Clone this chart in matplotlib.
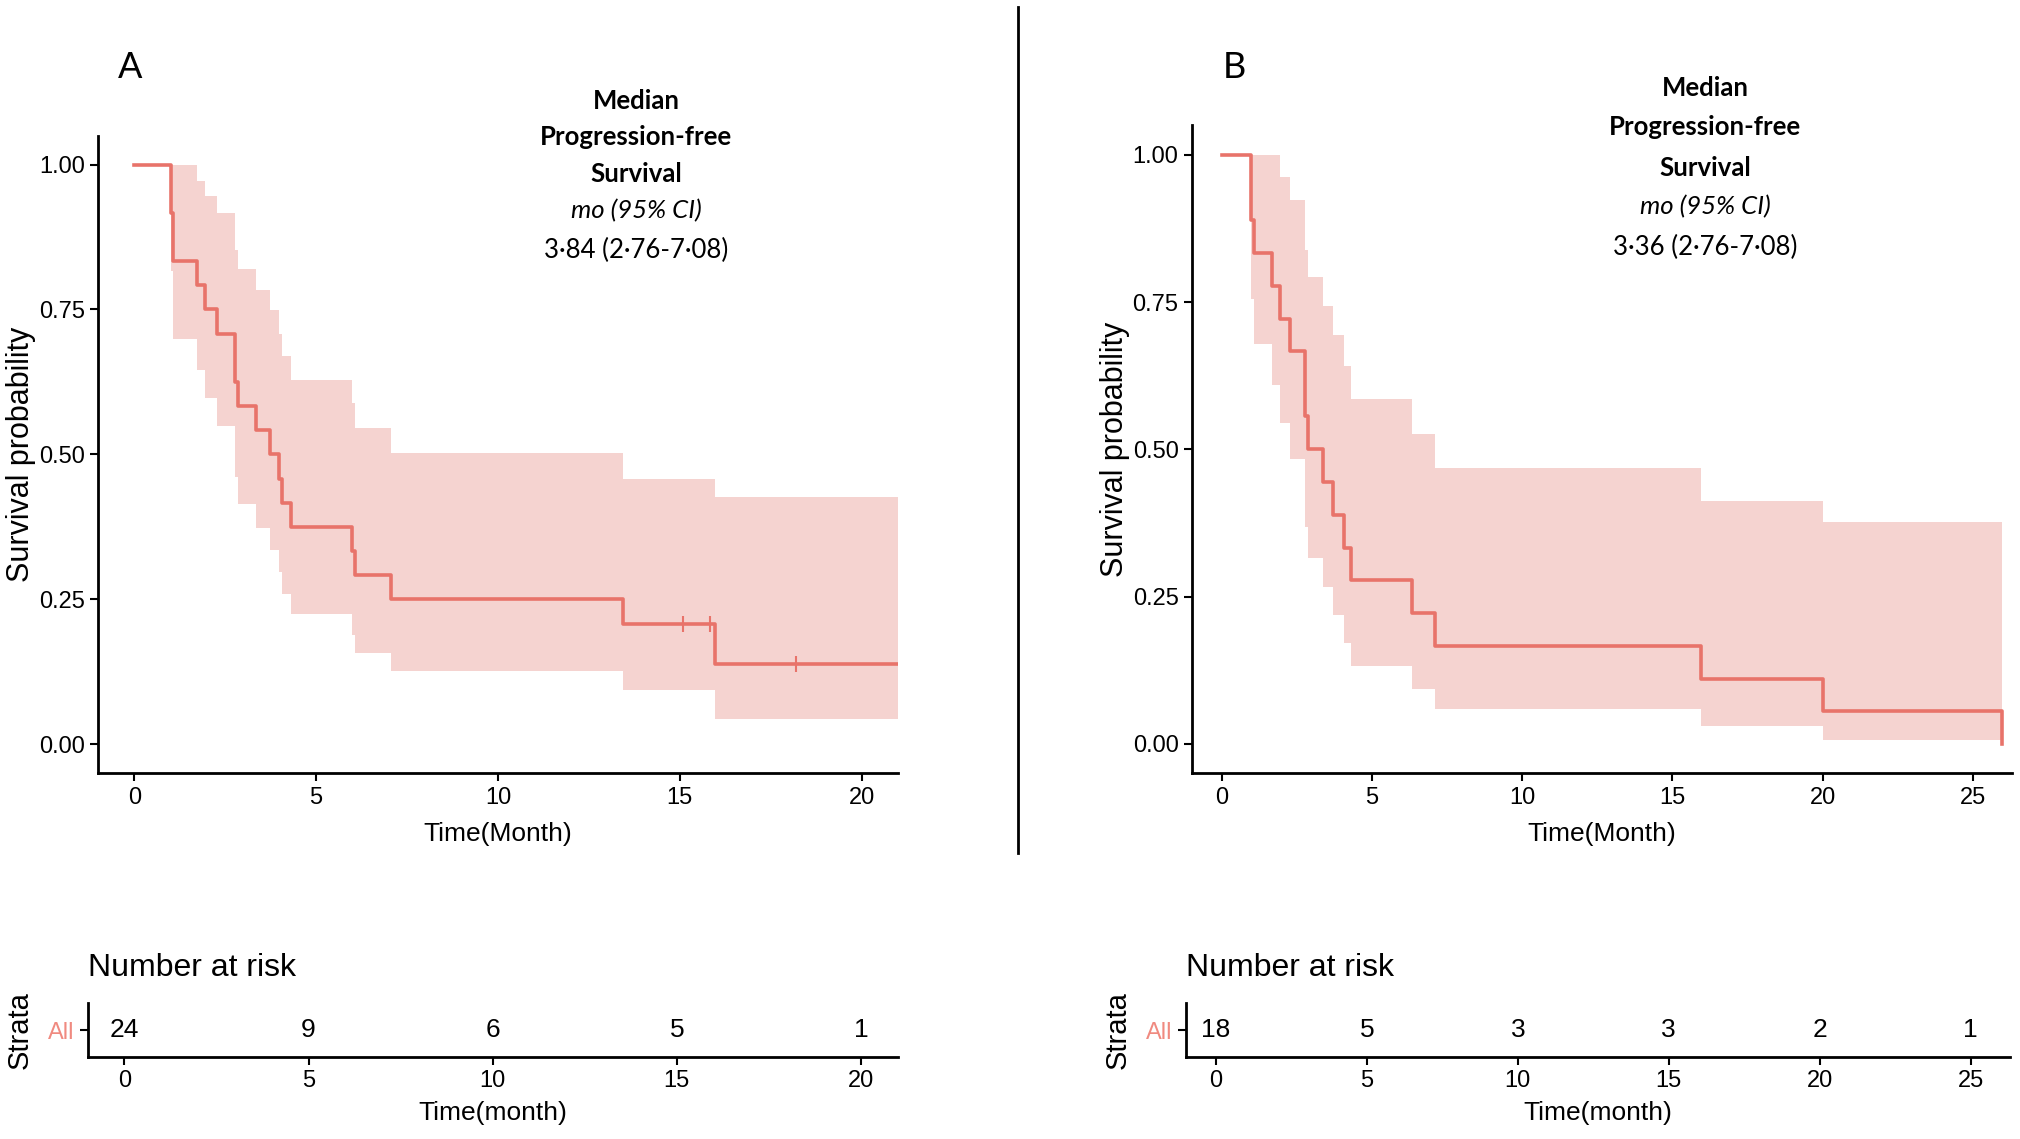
import matplotlib
matplotlib.use("Agg")
import matplotlib.pyplot as plt
from matplotlib import font_manager

# ---- data ----
# panel A (n = 24)
a_time = [0, 1.0, 1.07, 1.71, 1.93, 2.27, 2.77, 2.85, 3.36, 3.73, 3.97, 4.07, 4.32,
          6.0, 6.07, 7.05, 13.44, 15.96, 21.0]
a_surv = [1.0, 0.917, 0.833, 0.792, 0.75, 0.708, 0.625, 0.583, 0.542, 0.5, 0.458, 0.417,
          0.375, 0.333, 0.292, 0.25, 0.208, 0.139, 0.139]
a_upper = [1.0, 1.0, 1.0, 0.972, 0.946, 0.916, 0.852, 0.819, 0.783, 0.749, 0.708, 0.669,
           0.629, 0.588, 0.545, 0.503, 0.458, 0.426, 0.426]
a_lower = [1.0, 0.816, 0.699, 0.645, 0.597, 0.549, 0.461, 0.415, 0.374, 0.335, 0.297, 0.260,
           0.225, 0.189, 0.157, 0.126, 0.094, 0.044, 0.044]
a_cens_time = [15.09, 15.83, 18.21]
a_cens_surv = [0.208, 0.208, 0.139]
a_risk_time = [0, 5, 10, 15, 20]
a_risk_n = [24, 9, 6, 5, 1]
a_median = ["Median", "Progression-free", "Survival", "mo (95% CI)", "3·84 (2·76-7·08)"]

# panel B (n = 18)
b_time = [0, 0.96, 1.07, 1.67, 1.92, 2.28, 2.77, 2.88, 3.37, 3.71, 4.07, 4.29, 6.33, 7.1,
          15.96, 20.0, 25.96]
b_surv = [1.0, 0.889, 0.833, 0.778, 0.722, 0.667, 0.556, 0.5, 0.444, 0.389, 0.333, 0.278,
          0.222, 0.167, 0.111, 0.056, 0.0]
b_upper = [1.0, 1.0, 1.0, 1.0, 0.963, 0.924, 0.838, 0.792, 0.744, 0.694, 0.642, 0.585,
           0.526, 0.468, 0.413, 0.376, 0.376]
b_lower = [1.0, 0.756, 0.678, 0.61, 0.544, 0.484, 0.368, 0.315, 0.266, 0.219, 0.172, 0.133,
           0.094, 0.06, 0.031, 0.007, 0.007]
b_risk_time = [0, 5, 10, 15, 20, 25]
b_risk_n = [18, 5, 3, 3, 2, 1]
b_median = ["Median", "Progression-free", "Survival", "mo (95% CI)", "3·36 (2·76-7·08)"]

LINE = "#E8736A"
FILL = "#F5D3D0"

installed = {f.name for f in font_manager.fontManager.ttflist}
NARROW = ["Liberation Sans Narrow", "DejaVu Sans"] if "Liberation Sans Narrow" in installed else ["Liberation Sans", "DejaVu Sans"]
HUMAN = ["Lato", "DejaVu Sans"]
ARIAL = ["Liberation Sans", "DejaVu Sans"]

fig = plt.figure(figsize=(20.2, 11.39), dpi=100)


def style_axis(ax):
    for s in ["top", "right"]:
        ax.spines[s].set_visible(False)
    for s in ["left", "bottom"]:
        ax.spines[s].set_linewidth(2)
    ax.tick_params(width=1.5, length=6, labelsize=17, color="black")
    for lab in ax.get_xticklabels() + ax.get_yticklabels():
        lab.set_family(NARROW)


def km_panel(rect, t, s, lo, hi, xmax, xticks, median, mx, ys, cens_t=None, cens_s=None):
    ax = fig.add_axes(rect)
    ax.fill_between(t, lo, hi, step="post", color=FILL, lw=0)
    ax.step(t, s, where="post", color=LINE, lw=2.6)
    if cens_t:
        ax.plot(cens_t, cens_s, ls="none", marker="|", ms=12, mew=1.5, color=LINE)
    ax.set_xlim(-1.0, xmax)
    ax.set_ylim(-0.05, 1.05)
    ax.set_xticks(xticks)
    ax.set_yticks([0, 0.25, 0.5, 0.75, 1.0])
    ax.set_yticklabels(["0.00", "0.25", "0.50", "0.75", "1.00"])
    style_axis(ax)
    ax.set_xlabel("Time(Month)", fontsize=19, family=NARROW, labelpad=10)
    ax.set_ylabel("Survival probability", fontsize=22, family=ARIAL, labelpad=2)
    for i, line in enumerate(median):
        kw = dict(fontsize=18.5, family=HUMAN, ha="center", va="center", transform=ax.transAxes)
        if i < 3:
            kw["weight"] = "bold"
        if i == 3:
            kw["style"] = "italic"
        ax.text(mx, ys[i], line, **kw)
    return ax


def risk_table(rect, times, counts, xmax, xticks):
    ax = fig.add_axes(rect)
    for x, n in zip(times, counts):
        ax.text(x, 0.5, str(n), ha="center", va="center", fontsize=19, family=NARROW)
    ax.set_xlim(-1.0, xmax)
    ax.set_ylim(0, 1)
    ax.set_xticks(xticks)
    ax.set_yticks([0.5])
    ax.set_yticklabels(["All"])
    style_axis(ax)
    ax.get_yticklabels()[0].set_color("#F08A80")
    ax.set_xlabel("Time(month)", fontsize=19, family=NARROW, labelpad=6)
    ax.set_ylabel("Strata", fontsize=21, family=ARIAL, labelpad=10)
    ax.set_title("Number at risk", loc="left", fontsize=23, family=NARROW, pad=20)
    return ax


km_panel([0.0485, 0.321, 0.396, 0.560], a_time, a_surv, a_lower, a_upper, 21.0,
         [0, 5, 10, 15, 20], a_median, 0.673, [1.054, 0.998, 0.939, 0.883, 0.820],
         a_cens_time, a_cens_surv)
km_panel([0.590, 0.321, 0.406, 0.569], b_time, b_surv, b_lower, b_upper, 26.3,
         [0, 5, 10, 15, 20, 25], b_median, 0.626, [1.058, 0.998, 0.934, 0.875, 0.811])

risk_table([0.0434, 0.072, 0.401, 0.047], a_risk_time, a_risk_n, 21.0, [0, 5, 10, 15, 20])
risk_table([0.587, 0.072, 0.408, 0.047], b_risk_time, b_risk_n, 26.3, [0, 5, 10, 15, 20, 25])

# panel letters and divider
fig.text(0.0645, 0.941, "A", fontsize=26, family=HUMAN, ha="center", va="center")
fig.text(0.611, 0.941, "B", fontsize=26, family=HUMAN, ha="center", va="center")
fig.add_artist(plt.Line2D([0.504, 0.504], [0.251, 0.994], color="black", lw=2,
                          transform=fig.transFigure))

fig.savefig("out.png", dpi=100, facecolor="white")
